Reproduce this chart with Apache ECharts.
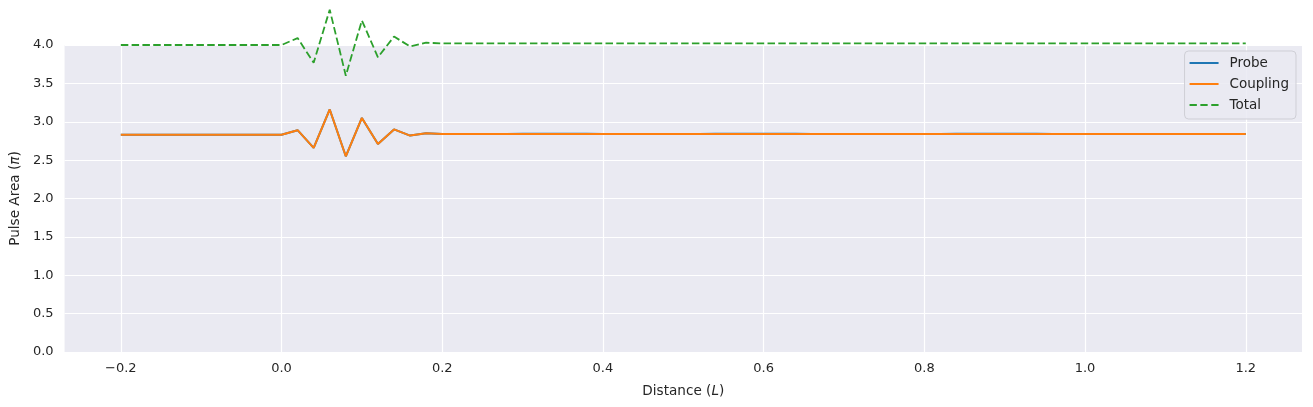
<!DOCTYPE html>
<html>
<head>
<meta charset="utf-8">
<script src="https://cdn.jsdelivr.net/npm/echarts@6/dist/echarts.min.js"></script>
<style>
html,body{margin:0;padding:0;background:#fff;}
#chart{width:1313px;height:407px;}
</style>
</head>
<body>
<div id="chart"></div>
<script>
const distance = [
  -0.20,-0.18,-0.16,-0.14,-0.12,-0.10,-0.08,-0.06,-0.04,-0.02,
  0.00,0.02,0.04,0.06,0.08,0.10,0.12,0.14,0.16,0.18,
  0.20,0.22,0.24,0.26,0.28,0.30,0.32,0.34,0.36,0.38,
  0.40,0.42,0.44,0.46,0.48,0.50,0.52,0.54,0.56,0.58,
  0.60,0.62,0.64,0.66,0.68,0.70,0.72,0.74,0.76,0.78,
  0.80,0.82,0.84,0.86,0.88,0.90,0.92,0.94,0.96,0.98,
  1.00,1.02,1.04,1.06,1.08,1.10,1.12,1.14,1.16,1.18,1.20
];
const probe = [
  2.83,2.83,2.83,2.83,2.83,2.83,2.83,2.83,2.83,2.83,
  2.83,2.89,2.66,3.16,2.55,3.05,2.71,2.90,2.82,2.85,
  2.84,2.84,2.84,2.84,2.842,2.844,2.844,2.844,2.844,2.844,
  2.842,2.84,2.84,2.84,2.84,2.84,2.842,2.844,2.844,2.844,
  2.844,2.844,2.844,2.842,2.84,2.84,2.84,2.84,2.84,2.84,
  2.842,2.842,2.844,2.844,2.844,2.844,2.844,2.844,2.842,2.84,
  2.84,2.84,2.84,2.84,2.84,2.84,2.84,2.84,2.84,2.84,2.84
];
const coupling = [
  2.83,2.83,2.83,2.83,2.83,2.83,2.83,2.83,2.83,2.83,
  2.83,2.89,2.66,3.16,2.55,3.05,2.71,2.90,2.82,2.85,
  2.84,2.84,2.84,2.84,2.84,2.84,2.84,2.84,2.84,2.84,
  2.84,2.84,2.84,2.84,2.84,2.84,2.84,2.84,2.84,2.84,
  2.84,2.84,2.84,2.84,2.84,2.84,2.84,2.84,2.84,2.84,
  2.84,2.84,2.84,2.84,2.84,2.84,2.84,2.84,2.84,2.84,
  2.84,2.84,2.84,2.84,2.84,2.84,2.84,2.84,2.84,2.84,2.84
];
const total = [
  4.00,4.00,4.00,4.00,4.00,4.00,4.00,4.00,4.00,4.00,
  4.00,4.09,3.77,4.46,3.60,4.32,3.84,4.11,3.98,4.03,
  4.02,4.02,4.02,4.02,4.02,4.022,4.022,4.022,4.022,4.022,
  4.02,4.02,4.02,4.02,4.02,4.02,4.022,4.022,4.022,4.022,
  4.022,4.022,4.022,4.02,4.02,4.02,4.02,4.02,4.02,4.02,
  4.02,4.02,4.022,4.022,4.022,4.022,4.022,4.022,4.02,4.02,
  4.02,4.02,4.02,4.02,4.02,4.02,4.02,4.02,4.02,4.02,4.02
];
const xTicks = [-0.2,0.0,0.2,0.4,0.6,0.8,1.0,1.2];
const seriesNames = ['Probe','Coupling','Total'];

const fmt = v => (v < 0 ? '\u2212' : '') + Math.abs(v).toFixed(1);
const font = 'DejaVu Sans';
const txt = '#262626';
const solidIcon = 'path://M0,0h29v2h-29z';
const dashIcon = 'path://M0,0h7.3v2h-7.3zM10.8,0h7.3v2h-7.3zM21.7,0h7.3v2h-7.3z';
const chart = echarts.init(document.getElementById('chart'), null, {renderer:'canvas'});
const zip = ys => distance.map((x,i)=>[x, ys[i]]);
chart.setOption({
  animation:false,
  backgroundColor:'#ffffff',
  grid:{left:64, right:11, top:45, bottom:55, show:true, backgroundColor:'#EAEAF2', borderWidth:0},
  xAxis:{
    type:'value', min:-0.27, max:1.27,
    name:'Distance ({i|L})', nameLocation:'middle', nameGap:32,
    nameTextStyle:{fontFamily:font, fontSize:13.6, color:txt, rich:{i:{fontFamily:font, fontSize:13.6, fontStyle:'italic', color:txt}}},
    axisLine:{show:false},
    axisTick:{show:false, customValues:xTicks},
    axisLabel:{customValues:xTicks, formatter:fmt, fontFamily:font, fontSize:13, color:txt, margin:10},
    splitLine:{show:true, lineStyle:{color:'#ffffff', width:1.2}}
  },
  yAxis:{
    type:'value', min:0, max:4, interval:0.5,
    name:'Pulse Area ({i|\u03c0})', nameLocation:'middle', nameGap:39,
    nameTextStyle:{fontFamily:font, fontSize:13.6, color:txt, rich:{i:{fontFamily:font, fontSize:13.6, fontStyle:'italic', color:txt}}},
    axisLine:{show:false}, axisTick:{show:false},
    axisLabel:{formatter:v=>v.toFixed(1), fontFamily:font, fontSize:13, color:txt, margin:11},
    splitLine:{show:true, lineStyle:{color:'#ffffff', width:1.2}}
  },
  legend:{
    orient:'vertical', right:17, top:51,
    data:[
      {name:seriesNames[0], icon:solidIcon, itemStyle:{color:'#1f77b4'}},
      {name:seriesNames[1], icon:solidIcon, itemStyle:{color:'#ff7f0e'}},
      {name:seriesNames[2], icon:dashIcon, itemStyle:{color:'#2ca02c'}}
    ],
    itemWidth:29, itemHeight:2, itemGap:7,
    padding:[5,7,7,5],
    backgroundColor:'rgba(234,234,242,0.85)',
    borderColor:'#cfcfd6', borderWidth:1, borderRadius:4,
    textStyle:{fontFamily:font, fontSize:13.5, color:txt, height:14, lineHeight:14, padding:[0,0,0,6]}
  },
  series:[
    {name:seriesNames[0], type:'line', data:zip(probe), showSymbol:false, symbol:'none', clip:false,
     lineStyle:{color:'#1f77b4', width:2}, itemStyle:{color:'#1f77b4'}},
    {name:seriesNames[1], type:'line', data:zip(coupling), showSymbol:false, symbol:'none', clip:false,
     lineStyle:{color:'#ff7f0e', width:2}, itemStyle:{color:'#ff7f0e'}},
    {name:seriesNames[2], type:'line', data:zip(total), showSymbol:false, symbol:'none', clip:false,
     lineStyle:{color:'#2ca02c', width:1.8, type:[7.5,3.3]}, itemStyle:{color:'#2ca02c'}}
  ]
});
</script>
</body>
</html>
